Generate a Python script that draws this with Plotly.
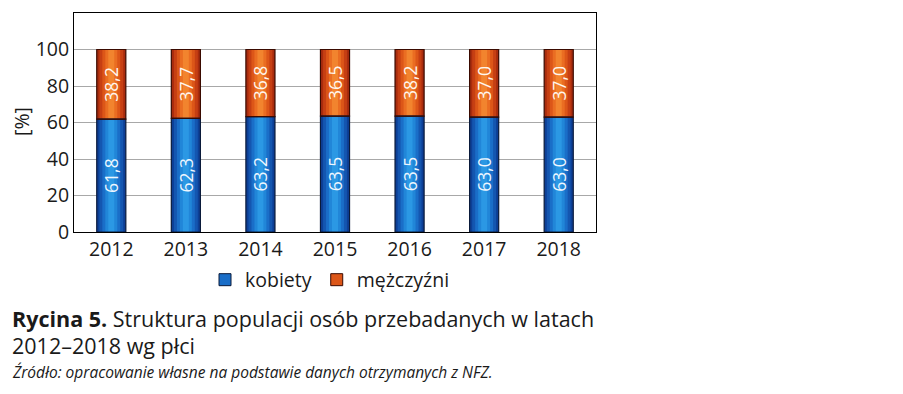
import plotly.graph_objects as go

years = ["2012", "2013", "2014", "2015", "2016", "2017", "2018"]
kobiety = [61.8, 62.3, 63.2, 63.5, 63.5, 63.0, 63.0]
mezczyzni = [38.2, 37.7, 36.8, 36.5, 36.5, 37.0, 37.0]
kobiety_lbl = ["61,8", "62,3", "63,2", "63,5", "63,5", "63,0", "63,0"]
mezczyzni_lbl = ["38,2", "37,7", "36,8", "36,5", "38,2", "37,0", "37,0"]
yticks = [0, 20, 40, 60, 80, 100]

FONT = "Open Sans"
TXT = "#1a1a1a"
W, H = 903, 394
ML, MR, MT, MB = 74, 307, 13, 162
PW = W - ML - MR
PH = H - MT - MB

blue_layers = ["#0d3f96", "#1456b0", "#1a6ec8", "#2186d8", "#2b98e4"]
orange_layers = ["#a92c0e", "#c63f13", "#dc5618", "#ea6d22", "#f2842e"]
widths = [0.39, 0.32, 0.24, 0.16, 0.08]

base_m = kobiety  # orange stacks on top of blue

fig = go.Figure()
for w, bc, oc in zip(widths, blue_layers, orange_layers):
    fig.add_trace(go.Bar(x=years, y=kobiety, base=[0] * len(years), width=w,
                         marker=dict(color=bc, line=dict(width=0)),
                         showlegend=False, hoverinfo="skip"))
    fig.add_trace(go.Bar(x=years, y=mezczyzni, base=base_m, width=w,
                         marker=dict(color=oc, line=dict(width=0)),
                         showlegend=False, hoverinfo="skip"))

# outlines + labels
fig.add_trace(go.Bar(x=years, y=kobiety, base=[0] * len(years), width=0.39,
                     name="kobiety",
                     marker=dict(color="rgba(0,0,0,0)", line=dict(color="#0a1a3a", width=1.2)),
                     text=kobiety_lbl, textposition="inside", textangle=-90,
                     insidetextanchor="middle", constraintext="none",
                     textfont=dict(color="#eef6ff", size=17.5, family=FONT),
                     showlegend=False))
fig.add_trace(go.Bar(x=years, y=mezczyzni, base=base_m, width=0.39,
                     name="mężczyźni",
                     marker=dict(color="rgba(0,0,0,0)", line=dict(color="#3a0a00", width=1.2)),
                     text=mezczyzni_lbl, textposition="inside", textangle=-90,
                     insidetextanchor="middle", constraintext="none",
                     textfont=dict(color="#fff6ee", size=17.5, family=FONT),
                     showlegend=False))

# legend entries
fig.add_trace(go.Bar(x=[None], y=[None], name="kobiety",
                     marker=dict(color="#1a6ec8", line=dict(color="#0a1a3a", width=1))))
fig.add_trace(go.Bar(x=[None], y=[None], name="mężczyźni",
                     marker=dict(color="#dc5618", line=dict(color="#3a0a00", width=1))))

fig.update_layout(
    width=W, height=H,
    margin=dict(l=ML, r=MR, t=MT, b=MB, autoexpand=False),
    barmode="overlay",
    plot_bgcolor="white", paper_bgcolor="white",
    font=dict(family=FONT, color=TXT, size=19),
    showlegend=True,
    legend=dict(orientation="h", x=(330 - ML) / PW, xanchor="center",
                y=-(280 - MT - PH) / PH, yanchor="middle",
                font=dict(size=19.5, family=FONT, color=TXT),
                itemwidth=30, tracegroupgap=0, bgcolor="rgba(0,0,0,0)"),
    xaxis=dict(type="category", showline=True, linecolor="black", linewidth=1, mirror=True,
               automargin=False, ticks="", tickfont=dict(size=19.5, family=FONT, color=TXT),
               showgrid=False),
    yaxis=dict(range=[0, 120], tickvals=yticks, ticktext=[str(v) for v in yticks],
               automargin=False,
               showline=True, linecolor="black", linewidth=1, mirror=True,
               showgrid=True, gridcolor="#a8a8a8", gridwidth=1, zeroline=False,
               ticks="", tickfont=dict(size=19.5, family=FONT, color=TXT)),
)

fig.add_annotation(text="[%]", textangle=-90,
                   xref="paper", yref="paper", x=(22 - ML) / PW, y=1 - (122 - MT) / PH,
                   xanchor="center", yanchor="middle", showarrow=False,
                   font=dict(size=19.5, family=FONT, color=TXT))
fig.add_annotation(text="<b>Rycina 5.</b> Struktura populacji osób przebadanych w latach",
                   xref="paper", yref="paper", x=(10 - ML) / PW, y=-(318 - MT - PH) / PH,
                   xanchor="left", yanchor="middle", showarrow=False,
                   font=dict(size=21.5, family=FONT, color=TXT))
fig.add_annotation(text="2012–2018 wg płci",
                   xref="paper", yref="paper", x=(10 - ML) / PW, y=-(345 - MT - PH) / PH,
                   xanchor="left", yanchor="middle", showarrow=False,
                   font=dict(size=21.5, family=FONT, color=TXT))
fig.add_annotation(text="<i>Źródło: opracowanie własne na podstawie danych otrzymanych z NFZ.</i>",
                   xref="paper", yref="paper", x=(10 - ML) / PW, y=-(372 - MT - PH) / PH,
                   xanchor="left", yanchor="middle", showarrow=False,
                   font=dict(size=15.5, family=FONT, color=TXT))

fig.write_html("out.html", config={"displayModeBar": False},
               post_script="document.body.style.margin='0';document.body.style.overflow='hidden';")
